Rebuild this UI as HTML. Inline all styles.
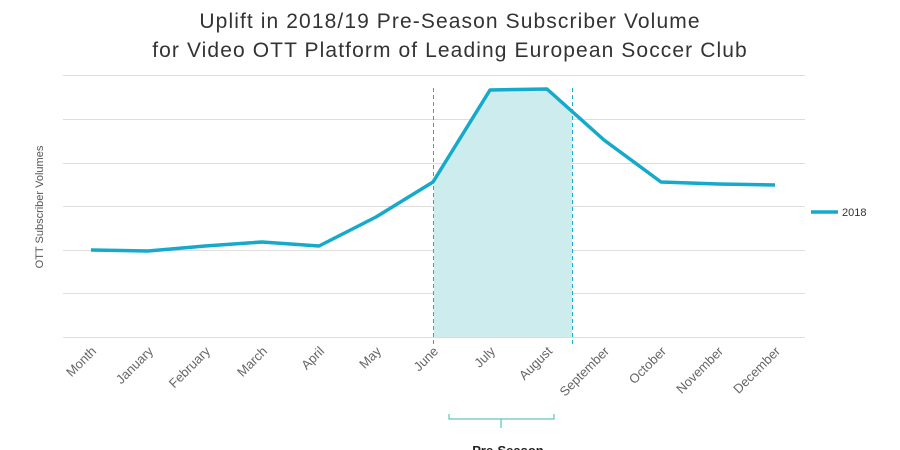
<!DOCTYPE html>
<html><head><style>
body{margin:0;background:#fff;}
svg{display:block;font-family:"Liberation Sans",sans-serif;}
</style></head><body>
<svg width="900" height="450" viewBox="0 0 900 450">
<text x="450" y="28" text-anchor="middle" font-size="21" letter-spacing="1.1" fill="#333">Uplift in 2018/19 Pre-Season Subscriber Volume</text>
<text x="450" y="57" text-anchor="middle" font-size="21" letter-spacing="1.1" fill="#333">for Video OTT Platform of Leading European Soccer Club</text>
<g stroke="#ddd" stroke-width="1">
<line x1="63" x2="805" y1="75.5" y2="75.5"/><line x1="63" x2="805" y1="119.5" y2="119.5"/>
<line x1="63" x2="805" y1="163.5" y2="163.5"/><line x1="63" x2="805" y1="206.5" y2="206.5"/>
<line x1="63" x2="805" y1="250.5" y2="250.5"/><line x1="63" x2="805" y1="293.5" y2="293.5"/>
<line x1="63" x2="805" y1="337.5" y2="337.5"/>
</g>
<polygon points="434,182 490,90 547,89 572,110 572,337 434,337" fill="#cdeced"/>
<line x1="433.5" x2="433.5" y1="88" y2="345" stroke="#1aaecc" stroke-dasharray="4,3"/>
<line x1="572.5" x2="572.5" y1="88" y2="345" stroke="#1aaecc" stroke-dasharray="4,3"/>
<polyline points="91,250 148,251 205,246 262,242 319,246 376,217 433,182 490,90 547,89 604,140 661,182 718,184 775,185" fill="none" stroke="#15aacb" stroke-width="3.5" stroke-linejoin="round"/>
<text transform="translate(43,207) rotate(-90)" text-anchor="middle" font-size="11" fill="#555">OTT Subscriber Volumes</text>
<g font-size="13" fill="#666" text-anchor="end">
<text transform="translate(97,352) rotate(-45)">Month</text>
<text transform="translate(154,352) rotate(-45)">January</text>
<text transform="translate(211,352) rotate(-45)">February</text>
<text transform="translate(268,352) rotate(-45)">March</text>
<text transform="translate(325,352) rotate(-45)">April</text>
<text transform="translate(382,352) rotate(-45)">May</text>
<text transform="translate(439,352) rotate(-45)">June</text>
<text transform="translate(496,352) rotate(-45)">July</text>
<text transform="translate(553,352) rotate(-45)">August</text>
<text transform="translate(610,352) rotate(-45)">September</text>
<text transform="translate(667,352) rotate(-45)">October</text>
<text transform="translate(724,352) rotate(-45)">November</text>
<text transform="translate(781,352) rotate(-45)">December</text>
</g>
<path d="M449,414 V419 H554 V414 M501,419 V428" fill="none" stroke="#5fc3c9" stroke-width="1.2"/>
<text x="508" y="455" text-anchor="middle" font-size="13" font-weight="bold" fill="#222">Pre-Season</text>
<line x1="811" x2="838" y1="212" y2="212" stroke="#15aacb" stroke-width="3.5"/>
<text x="842" y="216" font-size="11" fill="#333">2018</text>
</svg>
</body></html>
